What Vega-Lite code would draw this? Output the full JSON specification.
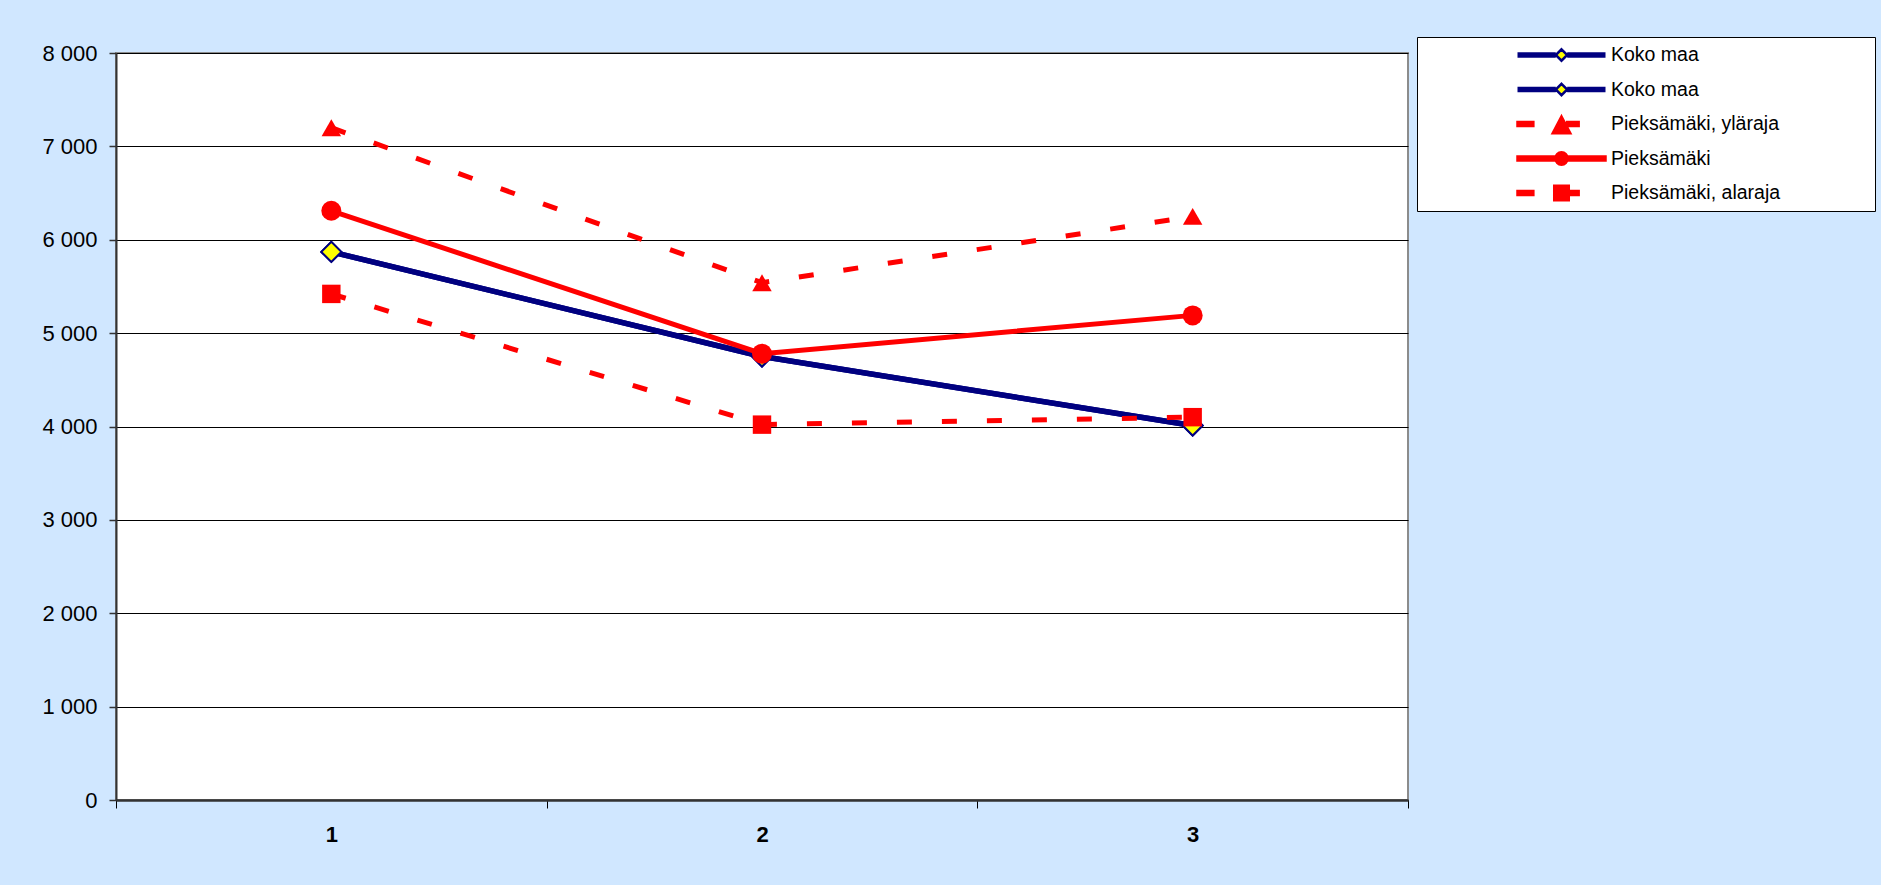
{
  "$schema": "https://vega.github.io/schema/vega-lite/v6.json",
  "width": 1292,
  "height": 747,
  "autosize": {"type": "none"},
  "padding": {"left": 116, "top": 53, "right": 473, "bottom": 85},
  "background": "#d0e7ff",
  "config": {
    "font": "Liberation Sans",
    "view": {"fill": "white", "stroke": "#8c8c8c", "strokeWidth": 2}
  },
  "data": {
    "values": [
      {"series": "Koko maa", "x": "1", "value": 5870},
      {"series": "Koko maa", "x": "2", "value": 4750},
      {"series": "Koko maa", "x": "3", "value": 4010},
      {"series": "Koko maa (2)", "x": "1", "value": 5870},
      {"series": "Koko maa (2)", "x": "2", "value": 4750},
      {"series": "Koko maa (2)", "x": "3", "value": 4010},
      {"series": "Pieksämäki, yläraja", "x": "1", "value": 7200},
      {"series": "Pieksämäki, yläraja", "x": "2", "value": 5540},
      {"series": "Pieksämäki, yläraja", "x": "3", "value": 6250},
      {"series": "Pieksämäki", "x": "1", "value": 6310},
      {"series": "Pieksämäki", "x": "2", "value": 4780},
      {"series": "Pieksämäki", "x": "3", "value": 5190},
      {"series": "Pieksämäki, alaraja", "x": "1", "value": 5420},
      {"series": "Pieksämäki, alaraja", "x": "2", "value": 4020},
      {"series": "Pieksämäki, alaraja", "x": "3", "value": 4100}
    ]
  },
  "encoding": {
    "x": {
      "field": "x",
      "type": "ordinal",
      "scale": {"type": "band", "paddingInner": 0, "paddingOuter": 0},
      "axis": {
        "title": null,
        "labelAngle": 0,
        "labelFont": "Liberation Sans",
        "labelFontSize": 22,
        "labelFontWeight": "bold",
        "labelColor": "#000000",
        "labelPadding": 16,
        "tickBand": "extent",
        "tickSize": 8,
        "tickColor": "#000000",
        "tickWidth": 1,
        "domainColor": "#333333",
        "domainWidth": 2.5,
        "grid": false
      }
    },
    "y": {
      "field": "value",
      "type": "quantitative",
      "scale": {"domain": [0, 8000], "nice": false, "zero": true},
      "axis": {
        "title": null,
        "values": [0, 1000, 2000, 3000, 4000, 5000, 6000, 7000, 8000],
        "labelExpr": "replace(format(datum.value, ','), ',', ' ')",
        "labelFont": "Liberation Sans",
        "labelFontSize": 22,
        "labelColor": "#000000",
        "labelPadding": 12,
        "tickSize": 7,
        "tickColor": "#333333",
        "tickWidth": 1.5,
        "domainColor": "#333333",
        "domainWidth": 2,
        "grid": true,
        "gridColor": "#000000",
        "gridWidth": 1
      }
    }
  },
  "layer": [
    {
      "transform": [{"filter": "indexof(datum.series, 'Koko maa') == 0"}],
      "mark": {"type": "line", "color": "#000080", "strokeWidth": 5.5},
      "encoding": {"detail": {"field": "series"}}
    },
    {
      "transform": [{"filter": "indexof(datum.series, 'Koko maa') == 0"}],
      "mark": {"type": "point", "shape": "diamond", "filled": true, "fill": "#ffff00", "stroke": "#000080", "strokeWidth": 2, "size": 400, "opacity": 1}
    },
    {
      "transform": [{"filter": "datum.series == 'Pieksämäki, yläraja' || datum.series == 'Pieksämäki, alaraja'"}],
      "mark": {"type": "line", "color": "#ff0000", "strokeWidth": 5, "strokeDash": [15, 30], "strokeCap": "butt"},
      "encoding": {"detail": {"field": "series"}}
    },
    {
      "transform": [{"filter": "datum.series == 'Pieksämäki'"}],
      "mark": {"type": "line", "color": "#ff0000", "strokeWidth": 5}
    },
    {
      "transform": [{"filter": "datum.series == 'Pieksämäki, yläraja'"}],
      "mark": {"type": "point", "shape": "triangle-up", "filled": true, "color": "#ff0000", "size": 380, "opacity": 1}
    },
    {
      "transform": [{"filter": "datum.series == 'Pieksämäki'"}],
      "mark": {"type": "point", "shape": "circle", "filled": true, "color": "#ff0000", "size": 400, "opacity": 1}
    },
    {
      "transform": [{"filter": "datum.series == 'Pieksämäki, alaraja'"}],
      "mark": {"type": "point", "shape": "square", "filled": true, "color": "#ff0000", "size": 340, "opacity": 1}
    },
    {
      "mark": {"type": "point", "filled": true, "opacity": 0, "strokeWidth": 2.5},
      "encoding": {
        "shape": {
          "field": "series",
          "type": "nominal",
          "scale": {
            "domain": ["Koko maa", "Koko maa (2)", "Pieksämäki, yläraja", "Pieksämäki", "Pieksämäki, alaraja"],
            "range": [
              "M-1,-0.035H-0.13M-1,0H-0.13M-1,0.035H-0.13M0.13,-0.035H1M0.13,0H1M0.13,0.035H1M0,-0.13L0.13,0L0,0.13L-0.13,0Z",
              "M-1,-0.035H-0.13M-1,0H-0.13M-1,0.035H-0.13M0.13,-0.035H1M0.13,0H1M0.13,0.035H1M0,-0.13L0.13,0L0,0.13L-0.13,0Z",
              "M-1,-0.045H-0.64V0.045H-1Z M0,-0.17L0.2,0.21L-0.2,0.21Z M0.13,-0.045H0.39V0.045H0.13Z",
              "M-1,-0.045H-0.14V0.045H-1Z M0.14,-0.045H1V0.045H0.14Z M-0.14,0A0.14,0.14,0,1,0,0.14,0A0.14,0.14,0,1,0,-0.14,0Z",
              "M-1,-0.045H-0.64V0.045H-1Z M-0.165,-0.165H0.165V0.165H-0.165Z M0.17,-0.045H0.39V0.045H0.17Z"
            ]
          },
          "legend": {
            "title": "Koko maa",
            "titleOrient": "right",
            "titleAngle": 0,
            "titleFontSize": 19,
            "titlePadding": 0,
            "titleOpacity": 0,
            "titleColor": "#ffffff",
            "orient": "none",
            "legendX": 1301,
            "legendY": -16,
            "padding": 4,
            "clipHeight": 28,
            "symbolSize": 7744,
            "symbolStrokeWidth": 2.5,
            "symbolOffset": 95,
            "labelOffset": 4,
            "labelFont": "Liberation Sans",
            "labelFontSize": 19.5,
            "labelColor": "#000000",
            "labelLimit": 0,
            "labelExpr": "indexof(datum.value, 'Koko maa') == 0 ? 'Koko maa' : datum.value",
            "rowPadding": 6.5,
            "strokeColor": "#000000",
            "fillColor": "#ffffff",
            "symbolOpacity": 1
          }
        },
        "fill": {
          "field": "series",
          "type": "nominal",
          "scale": {
            "domain": ["Koko maa", "Koko maa (2)", "Pieksämäki, yläraja", "Pieksämäki", "Pieksämäki, alaraja"],
            "range": ["#ffff00", "#ffff00", "#ff0000", "#ff0000", "#ff0000"]
          }
        },
        "stroke": {
          "field": "series",
          "type": "nominal",
          "scale": {
            "domain": ["Koko maa", "Koko maa (2)", "Pieksämäki, yläraja", "Pieksämäki", "Pieksämäki, alaraja"],
            "range": ["#000080", "#000080", "#ff0000", "#ff0000", "#ff0000"]
          }
        }
      }
    }
  ]
}
